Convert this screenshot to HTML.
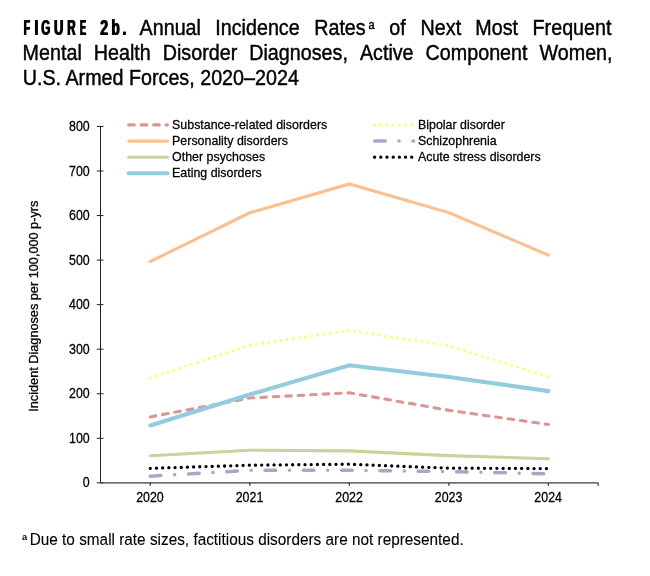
<!DOCTYPE html>
<html lang="en"><head><meta charset="utf-8">
<style>html,body{margin:0;padding:0;background:#fff}svg{display:block}</style></head>
<body>
<svg width="650" height="576" viewBox="0 0 650 576" font-family="'Liberation Sans', Arial, sans-serif" fill="#000">
<rect width="650" height="576" fill="#fff"/>
<text y="35.0" font-size="21.4" font-weight="bold"><tspan x="23.31" textLength="6.26" lengthAdjust="spacingAndGlyphs" style="text-shadow:2.09px 0 0 #000">F</tspan><tspan x="33.97" textLength="3.86" lengthAdjust="spacingAndGlyphs" style="text-shadow:1.54px 0 0 #000">I</tspan><tspan x="40.83" textLength="8.99" lengthAdjust="spacingAndGlyphs" style="text-shadow:1.85px 0 0 #000">G</tspan><tspan x="53.42" textLength="9.37" lengthAdjust="spacingAndGlyphs" style="text-shadow:1.65px 0 0 #000">U</tspan><tspan x="66.83" textLength="8.31" lengthAdjust="spacingAndGlyphs" style="text-shadow:1.86px 0 0 #000">R</tspan><tspan x="79.49" textLength="6.06" lengthAdjust="spacingAndGlyphs" style="text-shadow:2.35px 0 0 #000">E</tspan></text>
<text y="35.0" font-size="21.4" font-weight="bold"><tspan x="99.81" textLength="7.86" lengthAdjust="spacingAndGlyphs" style="text-shadow:1.52px 0 0 #000">2</tspan><tspan x="111.01" textLength="8.24" lengthAdjust="spacingAndGlyphs" style="text-shadow:1.59px 0 0 #000">b</tspan><tspan x="122.04" textLength="3.94" lengthAdjust="spacingAndGlyphs" style="text-shadow:1.51px 0 0 #000">.</tspan></text>
<text transform="translate(139.56,35.00) scale(1.000,1.075)" font-size="19.72" stroke="#000" stroke-width="0.4">Annual</text>
<text transform="translate(215.28,35.00) scale(1.000,1.075)" font-size="19.72" stroke="#000" stroke-width="0.4">Incidence</text>
<text transform="translate(314.18,35.00) scale(1.000,1.075)" font-size="19.72" stroke="#000" stroke-width="0.4">Rates</text>
<text transform="translate(368.60,28.80) scale(1.000,1.080)" font-size="11.0" stroke="#000" stroke-width="0.4">a</text>
<text transform="translate(389.37,35.00) scale(1.000,1.075)" font-size="19.72" stroke="#000" stroke-width="0.4">of</text>
<text transform="translate(420.58,35.00) scale(1.000,1.075)" font-size="19.72" stroke="#000" stroke-width="0.4">Next</text>
<text transform="translate(475.28,35.00) scale(1.000,1.075)" font-size="19.72" stroke="#000" stroke-width="0.4">Most</text>
<text transform="translate(532.58,35.00) scale(1.000,1.075)" font-size="19.72" stroke="#000" stroke-width="0.4">Frequent</text>
<text transform="translate(22.58,59.80) scale(1.000,1.075)" font-size="19.72" stroke="#000" stroke-width="0.4">Mental</text>
<text transform="translate(93.76,59.80) scale(1.000,1.075)" font-size="19.72" stroke="#000" stroke-width="0.4">Health</text>
<text transform="translate(162.74,59.80) scale(1.000,1.075)" font-size="19.72" stroke="#000" stroke-width="0.4">Disorder</text>
<text transform="translate(249.25,59.80) scale(1.000,1.075)" font-size="19.72" stroke="#000" stroke-width="0.4">Diagnoses,</text>
<text transform="translate(359.89,59.80) scale(1.000,1.075)" font-size="19.72" stroke="#000" stroke-width="0.4">Active</text>
<text transform="translate(425.57,59.80) scale(1.000,1.075)" font-size="19.72" stroke="#000" stroke-width="0.4">Component</text>
<text transform="translate(539.51,59.80) scale(1.000,1.075)" font-size="19.72" stroke="#000" stroke-width="0.4">Women,</text>
<text transform="translate(22.68,84.80) scale(1.000,1.075)" font-size="19.72" stroke="#000" stroke-width="0.4">U.S. Armed Forces, 2020–2024</text>
<g stroke="#1f1f1f" stroke-width="1" fill="none">
<path d="M100.5 126.45V482.85"/>
<path d="M96.8 126.45H103.5"/>
<path d="M96.8 171.00H103.5"/>
<path d="M96.8 215.55H103.5"/>
<path d="M96.8 260.10H103.5"/>
<path d="M96.8 304.65H103.5"/>
<path d="M96.8 349.20H103.5"/>
<path d="M96.8 393.75H103.5"/>
<path d="M96.8 438.30H103.5"/>
<path d="M96.8 482.85H103.5"/>
</g>
<g stroke="#3c3c3c" stroke-width="1.3" fill="none">
<path d="M100.5 482.85H598.2"/>
<path d="M150.27 482.85V485.8"/>
<path d="M249.81 482.85V485.8"/>
<path d="M349.35 482.85V485.8"/>
<path d="M448.89 482.85V485.8"/>
<path d="M548.43 482.85V485.8"/>
<path d="M598.20 482.85V485.8"/>
</g>
<text transform="translate(89.70,131.05) scale(1.000,1.150)" font-size="12.4" text-anchor="end" stroke="#000" stroke-width="0.25">800</text>
<text transform="translate(89.70,175.60) scale(1.000,1.150)" font-size="12.4" text-anchor="end" stroke="#000" stroke-width="0.25">700</text>
<text transform="translate(89.70,220.15) scale(1.000,1.150)" font-size="12.4" text-anchor="end" stroke="#000" stroke-width="0.25">600</text>
<text transform="translate(89.70,264.70) scale(1.000,1.150)" font-size="12.4" text-anchor="end" stroke="#000" stroke-width="0.25">500</text>
<text transform="translate(89.70,309.25) scale(1.000,1.150)" font-size="12.4" text-anchor="end" stroke="#000" stroke-width="0.25">400</text>
<text transform="translate(89.70,353.80) scale(1.000,1.150)" font-size="12.4" text-anchor="end" stroke="#000" stroke-width="0.25">300</text>
<text transform="translate(89.70,398.35) scale(1.000,1.150)" font-size="12.4" text-anchor="end" stroke="#000" stroke-width="0.25">200</text>
<text transform="translate(89.70,442.90) scale(1.000,1.150)" font-size="12.4" text-anchor="end" stroke="#000" stroke-width="0.25">100</text>
<text transform="translate(89.70,487.45) scale(1.000,1.150)" font-size="12.4" text-anchor="end" stroke="#000" stroke-width="0.25">0</text>
<text transform="translate(149.97,501.60) scale(1.000,1.150)" font-size="12.4" text-anchor="middle" stroke="#000" stroke-width="0.25">2020</text>
<text transform="translate(249.51,501.60) scale(1.000,1.150)" font-size="12.4" text-anchor="middle" stroke="#000" stroke-width="0.25">2021</text>
<text transform="translate(349.05,501.60) scale(1.000,1.150)" font-size="12.4" text-anchor="middle" stroke="#000" stroke-width="0.25">2022</text>
<text transform="translate(448.59,501.60) scale(1.000,1.150)" font-size="12.4" text-anchor="middle" stroke="#000" stroke-width="0.25">2023</text>
<text transform="translate(548.13,501.60) scale(1.000,1.150)" font-size="12.4" text-anchor="middle" stroke="#000" stroke-width="0.25">2024</text>
<text transform="translate(37.60,306.20) rotate(-90) scale(1.000,1.020)" font-size="12.72" text-anchor="middle" stroke="#000" stroke-width="0.3">Incident Diagnoses per 100,000 p-yrs</text>
<polyline points="150.27,416.90 249.81,398.00 349.35,392.80 448.89,410.30 548.43,424.50" fill="none" stroke="#D99694" stroke-width="3.1" stroke-linecap="round" stroke-linejoin="miter" stroke-dasharray="5.6 6.88"/>
<polyline points="150.27,261.50 249.81,212.80 349.35,183.90 448.89,212.60 548.43,255.20" fill="none" stroke="#FAC090" stroke-width="3.1" stroke-linecap="round" stroke-linejoin="miter"/>
<polyline points="150.27,455.80 249.81,450.20 349.35,450.90 448.89,455.60 548.43,458.75" fill="none" stroke="#C3D69B" stroke-width="3.1" stroke-linecap="round" stroke-linejoin="miter"/>
<polyline points="150.27,425.50 249.81,394.50 349.35,365.30 448.89,377.00 548.43,391.10" fill="none" stroke="#93CDDD" stroke-width="4.1" stroke-linecap="round" stroke-linejoin="miter"/>
<polyline points="150.27,378.00 249.81,345.20 349.35,330.50 448.89,345.80 548.43,376.80" fill="none" stroke="#FBFB80" stroke-width="3.1" stroke-linecap="round" stroke-linejoin="miter" stroke-dasharray="0.01 6.19"/>
<polyline points="150.27,476.20 249.81,470.30 349.35,470.30 448.89,471.50 548.43,473.90" fill="none" stroke="#B3A2C7" stroke-width="3.5" stroke-linecap="round" stroke-linejoin="miter" stroke-dasharray="10.6 13.8 0.01 13.89"/>
<polyline points="150.27,468.30 249.81,465.20 349.35,464.20 448.89,468.10 548.43,468.60" fill="none" stroke="#000000" stroke-width="3.3" stroke-linecap="round" stroke-linejoin="miter" stroke-dasharray="0.01 6.182"/>
<path d="M128.7 124.9H167.5" fill="none" stroke="#D99694" stroke-width="3.1" stroke-linecap="round" stroke-dasharray="5.6 6.88"/>
<text transform="translate(172.10,128.70) scale(1.000,1.060)" font-size="12.42" stroke="#000" stroke-width="0.25">Substance-related disorders</text>
<path d="M128.7 141.1H167.5" fill="none" stroke="#FAC090" stroke-width="3.1" stroke-linecap="round"/>
<text transform="translate(172.10,144.85) scale(1.000,1.060)" font-size="12.42" stroke="#000" stroke-width="0.25">Personality disorders</text>
<path d="M128.7 157.2H167.5" fill="none" stroke="#C3D69B" stroke-width="3.1" stroke-linecap="round"/>
<text transform="translate(172.10,161.00) scale(1.000,1.060)" font-size="12.42" stroke="#000" stroke-width="0.25">Other psychoses</text>
<path d="M128.7 173.3H167.5" fill="none" stroke="#93CDDD" stroke-width="4.1" stroke-linecap="round"/>
<text transform="translate(172.10,177.15) scale(1.000,1.060)" font-size="12.42" stroke="#000" stroke-width="0.25">Eating disorders</text>
<path d="M374.6 124.9H413.6" fill="none" stroke="#FBFB80" stroke-width="3.1" stroke-linecap="round" stroke-dasharray="0.01 6.19"/>
<text transform="translate(418.00,128.70) scale(1.000,1.060)" font-size="12.42" stroke="#000" stroke-width="0.25">Bipolar disorder</text>
<path d="M374.6 141.1H413.6" fill="none" stroke="#B3A2C7" stroke-width="3.5" stroke-linecap="round" stroke-dasharray="10.6 13.8 0.01 13.89"/>
<text transform="translate(418.00,144.85) scale(1.000,1.060)" font-size="12.42" stroke="#000" stroke-width="0.25">Schizophrenia</text>
<path d="M374.6 157.2H413.6" fill="none" stroke="#000000" stroke-width="3.3" stroke-linecap="round" stroke-dasharray="0.01 6.182"/>
<text transform="translate(418.00,161.00) scale(1.000,1.060)" font-size="12.42" stroke="#000" stroke-width="0.25">Acute stress disorders</text>
<text transform="translate(22.10,540.30) scale(1.000,1.060)" font-size="9.4" font-weight="bold">a</text>
<text transform="translate(29.70,544.70) scale(1.000,1.100)" font-size="15.36" stroke="#000" stroke-width="0.1">Due to small rate sizes, factitious disorders are not represented.</text>
</svg>
</body></html>
